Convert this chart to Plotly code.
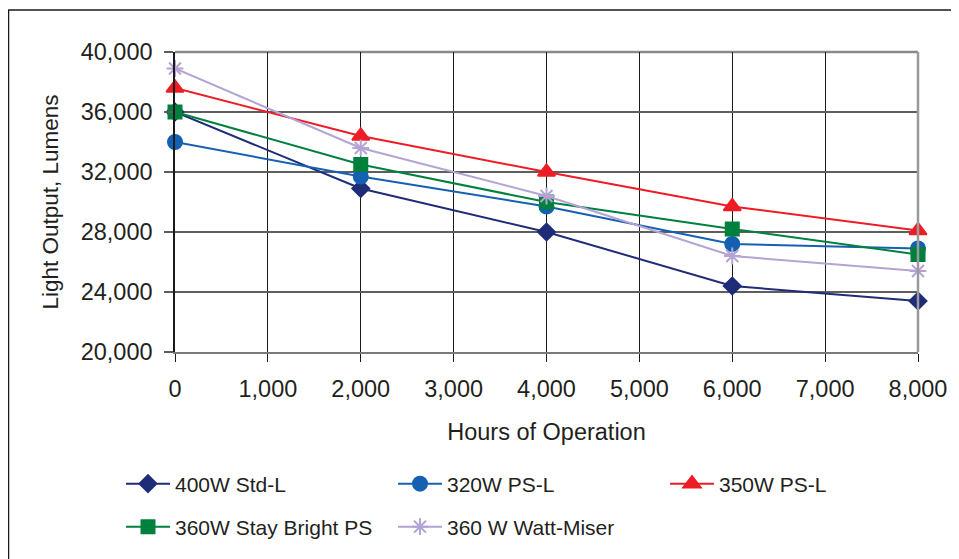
import plotly.graph_objects as go

hours = [0, 2000, 4000, 6000, 8000]
std_400 = [36000, 30900, 28000, 24400, 23400]
ps_320 = [34000, 31700, 29700, 27200, 26900]
ps_350 = [37600, 34400, 32000, 29700, 28100]
stay_360 = [36000, 32500, 30000, 28200, 26500]
watt_360 = [38900, 33600, 30400, 26400, 25400]

names = ["400W Std-L", "320W PS-L", "350W PS-L", "360W Stay Bright PS", "360 W Watt-Miser"]
x_ticks = [0, 1000, 2000, 3000, 4000, 5000, 6000, 7000, 8000]
y_ticks = [20000, 24000, 28000, 32000, 36000, 40000]

FONT = "Liberation Sans, Arial, sans-serif"
TXT = "#231f20"

series = [
    (names[0], std_400, "#1f2c78", "diamond", 13),
    (names[1], ps_320, "#1660b2", "circle", 14),
    (names[2], ps_350, "#ee1c25", "triangle-up", 15),
    (names[3], stay_360, "#00803d", "square", 13),
    (names[4], watt_360, "#b4a3d4", "asterisk-open", 14),
]
legend_ids = ["legend", "legend2", "legend3", "legend4", "legend5"]

fig = go.Figure()
for (name, ys, col, sym, sz), lg in zip(series, legend_ids):
    fig.add_trace(go.Scatter(
        x=hours, y=ys, name=name, mode="lines+markers",
        line=dict(color=col, width=2),
        marker=dict(symbol=sym, size=sz, color=col, line=dict(color=col, width=2)),
        cliponaxis=False, legend=lg,
    ))

# page has an 8px body margin; figure coords = screen coords - 8
OFF = 8
W, H = 951, 551
L, R, T, B = 175 - OFF, 41, 52 - OFF, 207
pw, ph = W - L - R, H - T - B

def px_x(p):
    return (p - OFF - L) / pw

def px_y(p):
    return (H - B - (p - OFF)) / ph

def cx(p):
    return (p - OFF) / W

def cy(p):
    return 1 - (p - OFF) / H

leg_common = dict(orientation="h", xref="container", yref="container",
                  xanchor="left", yanchor="middle",
                  font=dict(size=21, color=TXT),
                  bgcolor="rgba(0,0,0,0)", itemwidth=44)

# legend slot positions (screen px): x of slot start, y of row centre
leg_pos = [(121, 484), (393, 484), (665, 484), (121, 527), (393, 527)]
legends = {lid: dict(x=cx(px), y=cy(py), **leg_common) for lid, (px, py) in zip(legend_ids, leg_pos)}

fig.update_layout(
    width=W, height=H,
    margin=dict(l=L, r=R, t=T, b=B, autoexpand=False),
    paper_bgcolor="white", plot_bgcolor="white",
    font=dict(family=FONT, size=23.5, color=TXT),
    showlegend=True,
    **legends,
    xaxis=dict(
        range=[0, 8000], tickvals=x_ticks, tickformat=",d",
        showgrid=True, gridcolor="#1a1a1a", gridwidth=1,
        showline=True, linecolor="#7a7a7a", linewidth=2,
        ticks="outside", ticklen=8, tickcolor="#1a1a1a", tickwidth=1,
        zeroline=False, ticklabelstandoff=7, automargin=False,
        title=dict(text="Hours of Operation", font=dict(size=23.5), standoff=22),
    ),
    yaxis=dict(
        range=[20000, 40000], tickvals=y_ticks, tickformat=",d",
        showgrid=True, gridcolor="#5e5e5e", gridwidth=1.5,
        showline=True, linecolor="#1a1a1a", linewidth=1.5,
        ticks="outside", ticklen=9, tickcolor="#5e5e5e", tickwidth=1.5,
        zeroline=False, ticklabelstandoff=7, automargin=False,
        title=dict(text="Light Output, Lumens", font=dict(size=22.5), standoff=16),
    ),
    shapes=[
        dict(type="line", xref="paper", yref="paper", x0=1, x1=1, y0=0, y1=1,
             line=dict(color="#9a9a9a", width=2.5), layer="above"),
        dict(type="line", xref="paper", yref="paper", x0=0, x1=1, y0=1, y1=1,
             line=dict(color="#8a8a8a", width=2.5), layer="below"),
        dict(type="rect", xref="paper", yref="paper",
             x0=px_x(8.5), x1=px_x(990), y0=px_y(590), y1=px_y(10),
             line=dict(color="#1a1a1a", width=1.5), fillcolor="rgba(0,0,0,0)", layer="below"),
    ],
)

fig.write_html("out.html")
